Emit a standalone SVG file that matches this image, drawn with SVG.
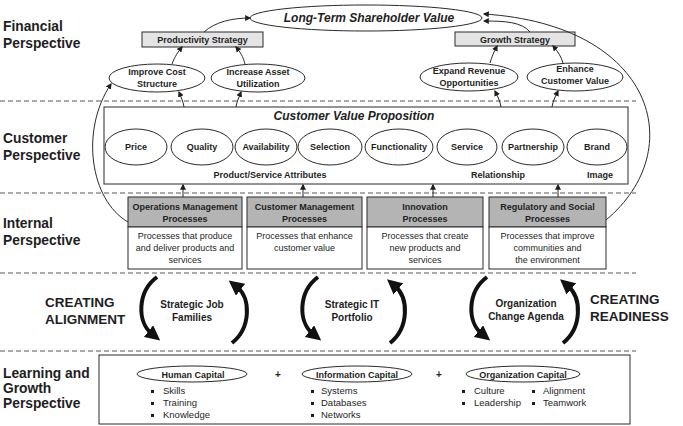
<svg xmlns="http://www.w3.org/2000/svg" width="683" height="426" viewBox="0 0 683 426">
<style>
text{font-family:"Liberation Sans",Arial,sans-serif;fill:#1e1e1e}
.persp{font-size:13.8px;font-weight:bold}
.b9{font-size:9px;font-weight:bold;text-anchor:middle}
.r9{font-size:9px;text-anchor:middle}
.b10{font-size:10px;font-weight:bold;text-anchor:middle}
.bi{font-size:12px;font-weight:bold;font-style:italic;text-anchor:middle}
.big{font-size:13.5px;font-weight:bold}
.bul{font-size:9.5px}
.dash{stroke:#555;stroke-width:1;stroke-dasharray:5 3;fill:none}
.ell{fill:#fff;stroke:#2a2a2a;stroke-width:1}
.box{fill:#fff;stroke:#2a2a2a;stroke-width:1}
.hdr{fill:#b4b4b4;stroke:#2a2a2a;stroke-width:1}
.strat{fill:#e4e4e4;stroke:#2a2a2a;stroke-width:1}
.thin{fill:none;stroke:#2a2a2a;stroke-width:1;marker-end:url(#ah)}
.thick{fill:none;stroke:#111;stroke-width:4;marker-end:url(#bh)}
</style>
<defs>
<marker id="ah" viewBox="0 0 10 10" refX="8" refY="5" markerWidth="6" markerHeight="6" markerUnits="userSpaceOnUse" orient="auto"><path d="M0,0 L10,5 L0,10 z" fill="#1e1e1e"/></marker>
<marker id="bh" viewBox="0 0 10 10" refX="3" refY="5" markerWidth="15" markerHeight="15" markerUnits="userSpaceOnUse" orient="auto"><path d="M0,0 L10,5 L0,10 z" fill="#111"/></marker>
</defs>
<rect width="683" height="426" fill="#fff"/>

<!-- perspective labels -->
<g id="labels">
<text class="persp" x="3" y="31">Financial</text>
<text class="persp" x="3" y="48">Perspective</text>
<text class="persp" x="3" y="143">Customer</text>
<text class="persp" x="3" y="160">Perspective</text>
<text class="persp" x="3" y="228">Internal</text>
<text class="persp" x="3" y="245">Perspective</text>
<text class="persp" x="3" y="378">Learning and</text>
<text class="persp" x="3" y="393">Growth</text>
<text class="persp" x="3" y="408">Perspective</text>
<text class="big" x="45" y="307">CREATING</text>
<text class="big" x="45" y="324">ALIGNMENT</text>
<text class="big" x="590" y="304">CREATING</text>
<text class="big" x="590" y="321">READINESS</text>
</g>

<g id="dividers">
<line class="dash" x1="0" y1="101" x2="636" y2="101"/>
<line class="dash" x1="0" y1="193" x2="636" y2="193"/>
<line class="dash" x1="0" y1="273" x2="636" y2="273"/>
<line class="dash" x1="0" y1="351" x2="636" y2="351"/>
</g>

<!-- financial -->
<g id="shareholder"><ellipse class="ell" cx="366" cy="18" rx="116" ry="13"/><text class="bi" x="369" y="22">Long-Term Shareholder Value</text></g>
<g id="productivity"><rect class="strat" x="142" y="32" width="121" height="15"/><text class="b9" x="202.5" y="43">Productivity Strategy</text></g>
<g id="growth"><rect class="strat" x="455" y="32" width="120" height="14"/><text class="b9" x="515" y="42.5">Growth Strategy</text></g>
<g id="cost"><ellipse class="ell" cx="157" cy="78" rx="48" ry="14"/><text class="b9" x="157" y="75">Improve Cost</text><text class="b9" x="157" y="87">Structure</text></g>
<g id="asset"><ellipse class="ell" cx="258" cy="78" rx="47" ry="14"/><text class="b9" x="258" y="75">Increase Asset</text><text class="b9" x="258" y="87">Utilization</text></g>
<g id="revenue"><ellipse class="ell" cx="469" cy="77" rx="49" ry="14"/><text class="b9" x="469" y="74">Expand Revenue</text><text class="b9" x="469" y="86">Opportunities</text></g>
<g id="custvalue"><ellipse class="ell" cx="575" cy="77" rx="48" ry="14"/><text class="b9" x="575" y="72">Enhance</text><text class="b9" x="575" y="84">Customer Value</text></g>

<!-- customer -->
<g id="cvp">
<rect class="box" x="104" y="107" width="524" height="77"/>
<text class="bi" x="354" y="120">Customer Value Proposition</text>
<text class="b9" x="270" y="178">Product/Service Attributes</text>
<text class="b9" x="498" y="178">Relationship</text>
<text class="b9" x="600" y="178">Image</text>
</g>
<g id="price"><ellipse class="ell" cx="136" cy="147" rx="31" ry="18"/><text class="b9" x="136" y="150">Price</text></g>
<g id="quality"><ellipse class="ell" cx="202" cy="147" rx="31" ry="18"/><text class="b9" x="202" y="150">Quality</text></g>
<g id="availability"><ellipse class="ell" cx="266" cy="147" rx="31" ry="18"/><text class="b9" x="266" y="150">Availability</text></g>
<g id="selection"><ellipse class="ell" cx="330" cy="147" rx="32" ry="18"/><text class="b9" x="330" y="150">Selection</text></g>
<g id="functionality"><ellipse class="ell" cx="399" cy="147" rx="34" ry="18"/><text class="b9" x="399" y="150">Functionality</text></g>
<g id="service"><ellipse class="ell" cx="467" cy="147" rx="30" ry="18"/><text class="b9" x="467" y="150">Service</text></g>
<g id="partnership"><ellipse class="ell" cx="533" cy="147" rx="31" ry="18"/><text class="b9" x="533" y="150">Partnership</text></g>
<g id="brand"><ellipse class="ell" cx="597" cy="147" rx="30" ry="18"/><text class="b9" x="597" y="150">Brand</text></g>

<!-- internal -->
<g id="operations">
<rect class="hdr" x="128" y="197" width="114" height="30"/><rect class="box" x="128" y="227" width="114" height="42"/>
<text class="b9" x="185" y="210">Operations Management</text><text class="b9" x="185" y="222">Processes</text>
<text class="r9" x="185" y="239">Processes that produce</text><text class="r9" x="185" y="251">and deliver products and</text><text class="r9" x="185" y="263">services</text>
</g>
<g id="custmgmt">
<rect class="hdr" x="247" y="197" width="115" height="30"/><rect class="box" x="247" y="227" width="115" height="42"/>
<text class="b9" x="304.5" y="210">Customer Management</text><text class="b9" x="304.5" y="222">Processes</text>
<text class="r9" x="304.5" y="239">Processes that enhance</text><text class="r9" x="304.5" y="251">customer value</text>
</g>
<g id="innovation">
<rect class="hdr" x="367" y="197" width="116" height="30"/><rect class="box" x="367" y="227" width="116" height="42"/>
<text class="b9" x="425" y="210">Innovation</text><text class="b9" x="425" y="222">Processes</text>
<text class="r9" x="425" y="239">Processes that create</text><text class="r9" x="425" y="251">new products and</text><text class="r9" x="425" y="263">services</text>
</g>
<g id="regulatory">
<rect class="hdr" x="489" y="197" width="117" height="30"/><rect class="box" x="489" y="227" width="117" height="42"/>
<text class="b9" x="547.5" y="210">Regulatory and Social</text><text class="b9" x="547.5" y="222">Processes</text>
<text class="r9" x="547.5" y="239">Processes that improve</text><text class="r9" x="547.5" y="251">communities and</text><text class="r9" x="547.5" y="263">the environment</text>
</g>

<!-- alignment labels -->
<g id="jobfamilies"><text class="b10" x="192" y="308">Strategic Job</text><text class="b10" x="192" y="321">Families</text></g>
<g id="itportfolio"><text class="b10" x="352" y="308">Strategic IT</text><text class="b10" x="352" y="321">Portfolio</text></g>
<g id="orgagenda"><text class="b10" x="526" y="307">Organization</text><text class="b10" x="526" y="320">Change Agenda</text></g>

<!-- learning -->
<g id="learning"><rect class="box" x="99" y="355" width="531" height="69"/></g>
<g id="human">
<ellipse class="ell" cx="192" cy="374" rx="55" ry="8"/><text class="b9" x="193" y="377.5">Human Capital</text>
<rect x="151" y="390" width="3" height="3" fill="#1e1e1e"/><text class="bul" x="163" y="394">Skills</text>
<rect x="151" y="402" width="3" height="3" fill="#1e1e1e"/><text class="bul" x="163" y="406">Training</text>
<rect x="151" y="414" width="3" height="3" fill="#1e1e1e"/><text class="bul" x="163" y="418">Knowledge</text>
</g>
<text class="b10" x="278" y="378">+</text>
<g id="information">
<ellipse class="ell" cx="357" cy="374" rx="55" ry="8"/><text class="b9" x="357" y="377.5">Information Capital</text>
<rect x="311" y="390" width="3" height="3" fill="#1e1e1e"/><text class="bul" x="321" y="394">Systems</text>
<rect x="311" y="402" width="3" height="3" fill="#1e1e1e"/><text class="bul" x="321" y="406">Databases</text>
<rect x="311" y="414" width="3" height="3" fill="#1e1e1e"/><text class="bul" x="321" y="418">Networks</text>
</g>
<text class="b10" x="439" y="378">+</text>
<g id="organization">
<ellipse class="ell" cx="523" cy="374" rx="57" ry="8"/><text class="b9" x="523" y="377.5">Organization Capital</text>
<rect x="462" y="390" width="3" height="3" fill="#1e1e1e"/><text class="bul" x="474" y="394">Culture</text>
<rect x="462" y="402" width="3" height="3" fill="#1e1e1e"/><text class="bul" x="474" y="406">Leadership</text>
<rect x="532" y="390" width="3" height="3" fill="#1e1e1e"/><text class="bul" x="543" y="394">Alignment</text>
<rect x="532" y="402" width="3" height="3" fill="#1e1e1e"/><text class="bul" x="543" y="406">Teamwork</text>
</g>

<!-- connectors -->
<g id="connectors">
<path class="thin" d="M204,32 C215,22 232,18 250,18"/>
<path class="thin" d="M530,32 C522,22 505,21 484,21"/>
<path class="thin" d="M606,220 C690,150 655,25 484,14"/>
<path class="thin" d="M128,222 C90,200 80,130 111,84"/>
<path class="thin" d="M172,64 C175,56 178,52 182,47"/>
<path class="thin" d="M245,64 C243,56 240,52 236,47"/>
<path class="thin" d="M490,63 C492,56 494,52 497,46"/>
<path class="thin" d="M563,63 C561,56 558,52 553,46"/>
<path class="thin" d="M184,107 C183,101 181,97 179,92"/>
<path class="thin" d="M236,107 C237,101 239,97 241,92"/>
<path class="thin" d="M501,107 C500,101 498,97 495,91"/>
<path class="thin" d="M552,107 C553,101 555,97 558,91"/>
<path class="thin" d="M183,197 L183,185"/>
<path class="thin" d="M303,197 L303,185"/>
<path class="thin" d="M433,197 L433,185"/>
<path class="thin" d="M558,197 L558,185"/>
<path class="thick" d="M157,277 C137,292 137,322 152,334"/>
<path class="thick" d="M232,343 C251,328 251,298 237,287"/>
<path class="thick" d="M318,277 C298,292 298,322 313,334"/>
<path class="thick" d="M390,343 C409,328 409,298 395,286"/>
<path class="thick" d="M487,277 C467,292 467,322 482,334"/>
<path class="thick" d="M563,343 C582,328 582,298 568,286"/>
</g>
</svg>
